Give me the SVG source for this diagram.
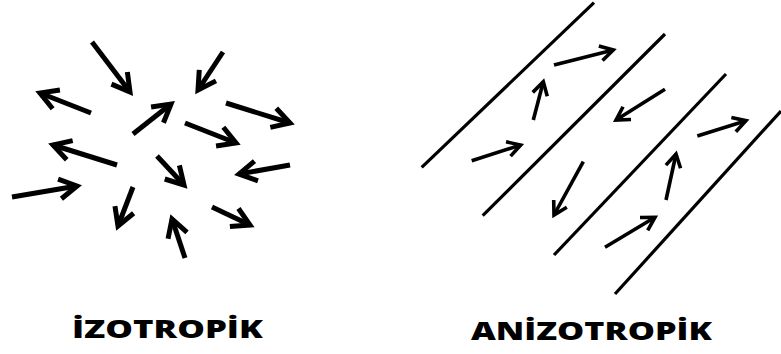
<svg xmlns="http://www.w3.org/2000/svg" width="781" height="354" viewBox="0 0 781 354">
  <style>
    .a1 { stroke: #000; stroke-width: 5; fill: none; marker-end: url(#headL); }
    .a2 { stroke: #000; stroke-width: 3.6; fill: none; marker-end: url(#headR); }
    .ln { stroke: #000; stroke-width: 3.2; fill: none; }
    .lbl { font-family: "Open Sans", "DejaVu Sans", sans-serif; font-weight: 800; font-size: 25px; fill: #000; }
  </style>
  <defs>
    <marker id="headL" markerUnits="userSpaceOnUse" viewBox="-30 -20 40 40" markerWidth="40" markerHeight="40" refX="0" refY="0" orient="auto" overflow="visible">
      <path d="M-17.5,-10 L0,0 L-17.5,10" fill="none" stroke="#000" stroke-width="5" stroke-linejoin="miter"/>
    </marker>
    <marker id="headR" markerUnits="userSpaceOnUse" viewBox="-30 -20 40 40" markerWidth="40" markerHeight="40" refX="0" refY="0" orient="auto" overflow="visible">
      <path d="M-13,-7.5 L0,0 L-13,7.5" fill="none" stroke="#000" stroke-width="3.6" stroke-linejoin="miter"/>
    </marker>
  </defs>
  <rect width="781" height="354" fill="#fff"/>

  <g id="izotropik">
    <line class="a1" x1="92" y1="42" x2="130" y2="92"/>
    <line class="a1" x1="223" y1="52" x2="198" y2="90"/>
    <line class="a1" x1="91" y1="113" x2="40" y2="93"/>
    <line class="a1" x1="133" y1="134" x2="171" y2="104"/>
    <line class="a1" x1="226" y1="103" x2="290" y2="123"/>
    <line class="a1" x1="185" y1="123" x2="236" y2="143"/>
    <line class="a1" x1="117" y1="165" x2="53" y2="145"/>
    <line class="a1" x1="157" y1="156" x2="184" y2="185"/>
    <line class="a1" x1="290" y1="165" x2="239" y2="174"/>
    <line class="a1" x1="12" y1="197" x2="77" y2="186"/>
    <line class="a1" x1="133" y1="187" x2="118" y2="226"/>
    <line class="a1" x1="212" y1="207" x2="250" y2="225"/>
    <line class="a1" x1="185" y1="258" x2="172" y2="219"/>
  </g>

  <g id="anizotropik">
    <g id="layers">
      <line class="ln" x1="421.7" y1="167.3" x2="594" y2="2.7"/>
      <line class="ln" x1="482.7" y1="215.7" x2="665" y2="34"/>
      <line class="ln" x1="554" y1="255" x2="726" y2="74"/>
      <line class="ln" x1="615" y1="294" x2="781" y2="111"/>
    </g>
    <g id="domains">
      <line class="a2" x1="554" y1="65" x2="613.3" y2="50"/>
      <line class="a2" x1="533.3" y1="120" x2="543.3" y2="81.7"/>
      <line class="a2" x1="471.7" y1="160.7" x2="520.7" y2="145"/>
      <line class="a2" x1="665" y1="89.3" x2="616" y2="120"/>
      <line class="a2" x1="583.3" y1="161.7" x2="554" y2="215"/>
      <line class="a2" x1="697.3" y1="136" x2="746" y2="120.7"/>
      <line class="a2" x1="666" y1="200" x2="676" y2="154"/>
      <line class="a2" x1="605" y1="247.3" x2="655" y2="217.3"/>
    </g>
  </g>

  <g id="labels">
    <text class="lbl" transform="scale(1.4,1)" x="51.4" y="338" textLength="136.4" lengthAdjust="spacingAndGlyphs">İZOTROPİK</text>
    <text class="lbl" transform="scale(1.4,1)" x="336.4" y="340" textLength="172.1" lengthAdjust="spacingAndGlyphs">ANİZOTROPİK</text>
  </g>
</svg>
